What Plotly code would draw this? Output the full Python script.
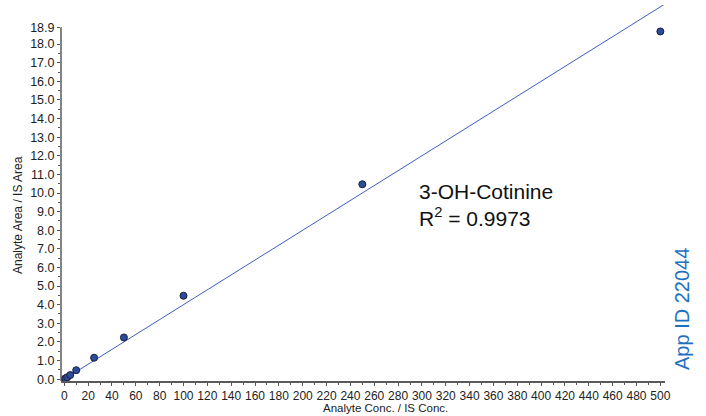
import plotly.graph_objects as go

# Data
conc = [0.5, 1, 2.5, 5, 10, 25, 50, 100, 250, 500]
ratio = [0.02, 0.04, 0.10, 0.22, 0.48, 1.15, 2.24, 4.48, 10.47, 18.68]
fit_x = [0, 530]
fit_y = [0.0, 21.2]

x_tick_vals = list(range(0, 501, 20))
x_minor_vals = list(range(10, 500, 20))
y_tick_vals = [float(v) for v in range(0, 19)] + [18.9]
y_tick_text = [f"{v:.1f}" for v in y_tick_vals]
y_minor_vals = [v + 0.5 for v in range(0, 18)]

FONT = "Liberation Sans, Arial, Helvetica, sans-serif"
AX = "#5a5a5a"

fig = go.Figure()
fig.add_trace(go.Scatter(x=fit_x, y=fit_y, mode="lines",
                         line=dict(color="#3f5fc4", width=1), hoverinfo="skip"))
fig.add_trace(go.Scatter(x=conc, y=ratio, mode="markers",
                         marker=dict(size=7, color="#2d4b9b",
                                     line=dict(color="#1b1f3a", width=1))))

fig.update_layout(
    width=706, height=416, autosize=False,
    margin=dict(l=61, r=41, t=5, b=35),
    paper_bgcolor="white", plot_bgcolor="white",
    showlegend=False,
    font=dict(family=FONT, size=12, color="#222222"),
    xaxis=dict(range=[-2.77, 503.9], tickmode="array", tickvals=x_tick_vals,
               ticks="outside", ticklen=3, tickcolor=AX, tickwidth=1,
               showline=True, linecolor=AX, linewidth=1.5,
               showgrid=False, zeroline=False,
               tickfont=dict(size=12, color="#222222"),
               minor=dict(tickmode="array", tickvals=x_minor_vals, ticks="outside",
                          ticklen=2, tickcolor=AX, showgrid=False)),
    yaxis=dict(range=[-0.1, 20.1], tickmode="array", tickvals=y_tick_vals,
               ticktext=y_tick_text, ticks="outside", ticklen=3, tickcolor=AX,
               tickwidth=1, showline=False, showgrid=False, zeroline=False,
               tickfont=dict(size=12.5, color="#222222"),
               minor=dict(tickmode="array", tickvals=y_minor_vals, ticks="outside",
                          ticklen=2, tickcolor=AX, showgrid=False)),
)

fig.add_shape(type="line", xref="paper", yref="y", x0=0, x1=0, y0=-0.1, y1=18.9,
              line=dict(color=AX, width=1.5))

fig.add_annotation(text="Analyte Conc. / IS Conc.", xref="paper", yref="paper",
                   x=(385-61)/604, y=-35/376, xanchor="center", yanchor="bottom",
                   showarrow=False, font=dict(size=11.5, color="#222222"))
fig.add_annotation(text="Analyte Area / IS Area", xref="paper", yref="paper",
                   x=-43/604, y=(381-215)/376, xanchor="center", yanchor="middle",
                   textangle=-90, showarrow=False,
                   font=dict(size=12, color="#222222"))
fig.add_annotation(text="3-OH-Cotinine<br>R<sup>2</sup> = 0.9973", xref="paper", yref="paper",
                   x=(417-61)/604, y=(381-205)/376, xanchor="left", yanchor="middle",
                   align="left", showarrow=False,
                   font=dict(size=21, color="#111111"))
fig.add_annotation(text="App ID 22044", xref="paper", yref="paper",
                   x=(682-61)/604, y=(381-309)/376, xanchor="center", yanchor="middle",
                   textangle=-90, showarrow=False,
                   font=dict(size=20, color="#1f6fbf"))

fig.write_html("out.html")
